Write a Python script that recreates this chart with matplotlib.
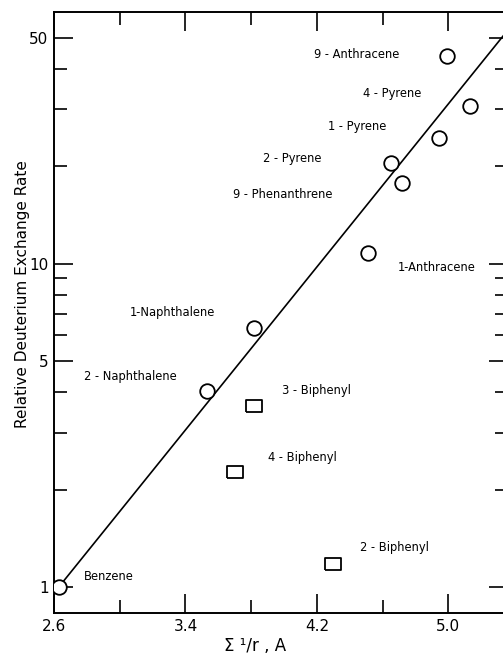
import matplotlib
matplotlib.use('Agg')
from matplotlib import pyplot as plt
from matplotlib.ticker import FixedLocator, NullFormatter, FixedFormatter

# polycyclic aromatics (circles)
arom_names = ['Benzene', '2 - Naphthalene', '1-Naphthalene', '1-Anthracene',
              '2 - Pyrene', '9 - Phenanthrene', '1 - Pyrene', '4 - Pyrene',
              '9 - Anthracene']
arom_x = [2.63, 3.53, 3.82, 4.51, 4.65, 4.72, 4.94, 5.13, 4.99]
arom_y = [1.0, 4.04, 6.3, 10.8, 20.5, 17.7, 24.5, 30.7, 43.8]
# label anchors (left edge of text)
arom_lx = [2.78, 2.78, 3.06, 4.69, 3.87, 3.69, 4.27, 4.48, 4.18]
arom_ly = [1.08, 4.47, 7.05, 9.7, 21.1, 16.4, 26.5, 33.6, 44.4]

# biphenyls (squares)
biph_names = ['3 - Biphenyl', '4 - Biphenyl', '2 - Biphenyl']
biph_x = [3.82, 3.70, 4.30]
biph_y = [3.63, 2.26, 1.18]
biph_lx = [3.99, 3.90, 4.46]
biph_ly = [4.04, 2.51, 1.32]

# fitted line
fit_x = [2.63, 5.36]
fit_y = [1.0, 52.6]

x_major = [2.6, 3.4, 4.2, 5.0]
x_minor = [3.0, 3.8, 4.6]
y_major = [1, 5, 10, 50]
y_minor = [2, 3, 4, 6, 7, 8, 9, 20, 30, 40]

fig = plt.figure(figsize=(5.03, 6.57), dpi=100)
ax = fig.add_axes([0.1074, 0.067, 0.9016, 0.9147])

ax.set_yscale('log')
ax.plot(fit_x, fit_y, color='black', lw=1.2, zorder=2)
ax.plot(arom_x, arom_y, 'o', ms=10.5, mfc='white', mec='black', mew=1.3, zorder=3)
rect = [(-1.3, -1), (1.3, -1), (1.3, 1), (-1.3, 1), (-1.3, -1)]
ax.plot(biph_x, biph_y, ls='none', marker=rect, ms=12, mfc='white', mec='black',
        mew=1.3, zorder=3)

for name, lx, ly in zip(arom_names, arom_lx, arom_ly):
    ax.text(lx, ly, name, fontsize=8.3, ha='left', va='center')
for name, lx, ly in zip(biph_names, biph_lx, biph_ly):
    ax.text(lx, ly, name, fontsize=8.3, ha='left', va='center')

ax.set_xlim(2.6, 5.36)
ax.set_ylim(0.83, 60)

ax.xaxis.set_major_locator(FixedLocator(x_major))
ax.xaxis.set_major_formatter(FixedFormatter(['2.6', '3.4', '4.2', '5.0']))
ax.xaxis.set_minor_locator(FixedLocator(x_minor))
ax.yaxis.set_major_locator(FixedLocator(y_major))
ax.yaxis.set_major_formatter(FixedFormatter(['1', '5', '10', '50']))
ax.yaxis.set_minor_locator(FixedLocator(y_minor))
ax.yaxis.set_minor_formatter(NullFormatter())

ax.tick_params(which='both', direction='in', top=True, right=True, width=1.2)
ax.tick_params(which='major', length=14, labelsize=11, pad=4)
ax.tick_params(which='minor', length=9.5)
for s in ax.spines.values():
    s.set_linewidth(1.4)

fig.text(0.044, 1 - 294 / 657, 'Relative Deuterium Exchange Rate', rotation=90,
         ha='center', va='center', fontsize=11)
fig.text(255 / 503, 1 - 646 / 657, 'Σ ¹/r , A', ha='center', va='center', fontsize=12)

fig.savefig('out.png', dpi=100)
